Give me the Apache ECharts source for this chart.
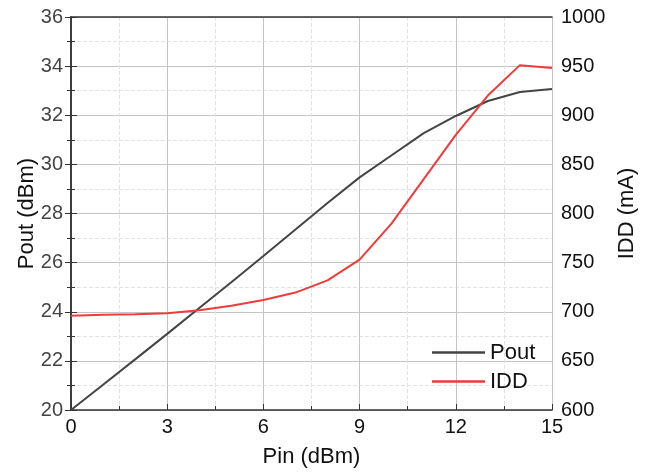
<!DOCTYPE html>
<html>
<head>
<meta charset="utf-8">
<script src="https://cdn.jsdelivr.net/npm/echarts@6/dist/echarts.min.js"></script>
<style>
  html, body { margin: 0; padding: 0; background: #fff; }
  #chart { width: 650px; height: 472px; }
</style>
</head>
<body>
<div id="chart"></div>
<script>
// Input power sweep (dBm)
const pin = [0, 1, 2, 3, 4, 5, 6, 7, 8, 9, 10, 11, 12, 13, 14, 15];
// Output power (dBm)
const pout = [20, 21.03, 22.06, 23.1, 24.15, 25.2, 26.27, 27.35, 28.43, 29.47, 30.37, 31.27, 31.97, 32.58, 32.95, 33.07];
// Drain current (mA)
const idd = [696, 697, 697.5, 698.5, 701.5, 706, 712, 719.5, 732, 753, 790, 835, 880, 920, 951, 948];

const leftTicks = { min: 20, max: 36, step: 2 };
const rightTicks = { min: 600, max: 1000, step: 50 };
const xTicks = { min: 0, max: 15, step: 3 };

const font = 'Liberation Sans, Arial, sans-serif';
const axisDark = '#333';
const tickSize = 20;
const titleSize = 22;

const chart = echarts.init(document.getElementById('chart'));

chart.setOption({
  animation: false,
  backgroundColor: '#fff',
  grid: { left: 71, right: 98, top: 17, bottom: 62, containLabel: false, outerBoundsMode: 'none' },
  legend: {
    orient: 'vertical',
    left: 427,
    top: 335,
    icon: 'rect',
    itemWidth: 53,
    itemHeight: 2.5,
    itemGap: 4,
    textStyle: { fontFamily: font, fontSize: titleSize, color: '#111', lineHeight: 25 },
    data: ['Pout', 'IDD']
  },
  xAxis: [{
    type: 'value',
    min: xTicks.min, max: xTicks.max, interval: xTicks.step,
    name: 'Pin (dBm)',
    nameLocation: 'middle',
    nameGap: 36,
    nameMoveOverlap: false,
    nameTextStyle: { fontFamily: font, fontSize: titleSize, color: '#111' },
    axisLine: { show: true, lineStyle: { color: axisDark, width: 1.5 } },
    axisTick: { show: true, inside: true, length: 6, lineStyle: { color: axisDark } },
    minorTick: { show: true, splitNumber: 2, length: 4, lineStyle: { color: axisDark } },
    axisLabel: { fontFamily: font, fontSize: tickSize, color: '#111', margin: 7, showMinLabel: true, showMaxLabel: true },
    splitLine: { show: true, lineStyle: { color: '#c4c4c4', width: 1 } },
    minorSplitLine: { show: true, lineStyle: { color: '#e2e2e2', type: 'dashed', width: 1 } }
  }, {
    type: 'value',
    position: 'top',
    min: xTicks.min, max: xTicks.max, interval: xTicks.step,
    axisLine: { show: true, lineStyle: { color: axisDark, width: 1.5 } },
    axisTick: { show: false },
    axisLabel: { show: false },
    splitLine: { show: false }
  }],
  yAxis: [{
    type: 'value',
    min: leftTicks.min, max: leftTicks.max, interval: leftTicks.step,
    name: 'Pout (dBm)',
    nameLocation: 'middle',
    nameGap: 33,
    nameMoveOverlap: false,
    nameTextStyle: { fontFamily: font, fontSize: titleSize, color: '#111' },
    axisLine: { show: true, lineStyle: { color: axisDark, width: 1.5 } },
    axisTick: { show: true, inside: true, length: 6, lineStyle: { color: axisDark } },
    minorTick: { show: true, splitNumber: 2, length: 4, lineStyle: { color: axisDark } },
    axisLabel: { fontFamily: font, fontSize: tickSize, color: '#444', margin: 8, showMinLabel: true, showMaxLabel: true },
    splitLine: { show: true, lineStyle: { color: '#c4c4c4', width: 1 } },
    minorSplitLine: { show: true, lineStyle: { color: '#e2e2e2', type: 'dashed', width: 1 } }
  }, {
    type: 'value',
    position: 'right',
    min: rightTicks.min, max: rightTicks.max, interval: rightTicks.step,
    name: 'IDD (mA)',
    nameLocation: 'middle',
    nameGap: 64,
    nameMoveOverlap: false,
    nameTextStyle: { fontFamily: font, fontSize: titleSize, color: '#111' },
    axisLine: { show: true, lineStyle: { color: axisDark, width: 1.5 } },
    axisTick: { show: true, inside: true, length: 6, lineStyle: { color: axisDark } },
    minorTick: { show: true, splitNumber: 2, length: 4, lineStyle: { color: axisDark } },
    axisLabel: {
      fontFamily: font, fontSize: tickSize, color: '#111', margin: 9,
      showMinLabel: true, showMaxLabel: true,
      formatter: v => String(v)
    },
    splitLine: { show: false }
  }],
  series: [{
    name: 'Pout',
    type: 'line',
    xAxisIndex: 0,
    yAxisIndex: 0,
    symbol: 'none',
    lineStyle: { color: '#444444', width: 2 },
    itemStyle: { color: '#444444' },
    data: pin.map((x, i) => [x, pout[i]])
  }, {
    name: 'IDD',
    type: 'line',
    xAxisIndex: 0,
    yAxisIndex: 1,
    symbol: 'none',
    lineStyle: { color: '#ef3b3b', width: 2 },
    itemStyle: { color: '#ef3b3b' },
    data: pin.map((x, i) => [x, idd[i]])
  }]
});
</script>
</body>
</html>
